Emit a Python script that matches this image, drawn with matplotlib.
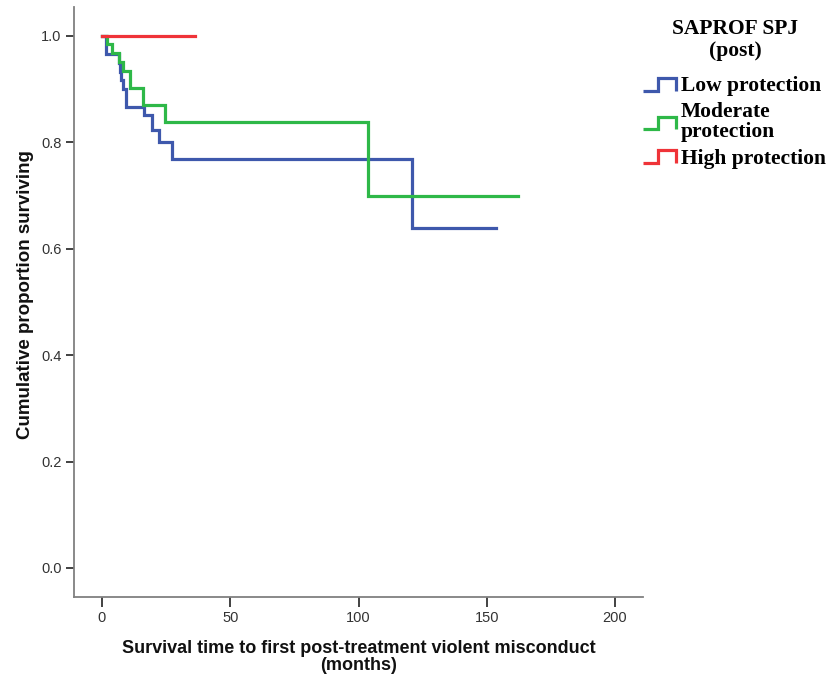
import matplotlib
matplotlib.use("Agg")
import matplotlib.pyplot as plt
from matplotlib.legend_handler import HandlerBase
from matplotlib.lines import Line2D

# Kaplan-Meier survival estimates per SAPROF SPJ (post) group
group_labels = ["Low protection", "Moderate\nprotection", "High protection"]
group_colors = ["#3E58AC", "#2EB848", "#EF3338"]

low_times = [0, 1.5, 6.5, 7.0, 7.5, 8.2, 9.5, 16.4, 19.4, 22.3, 27.2, 121.0, 153.5]
low_surv = [1.0, 0.967, 0.950, 0.933, 0.917, 0.900, 0.867, 0.851, 0.823, 0.801, 0.768, 0.639, 0.639]

moderate_times = [0, 2.0, 4.0, 6.5, 8.2, 10.8, 16.1, 24.6, 103.7, 162.0]
moderate_surv = [1.0, 0.984, 0.968, 0.952, 0.935, 0.903, 0.871, 0.839, 0.700, 0.700]

high_times = [0, 36.3]
high_surv = [1.0, 1.0]

x_ticks = [0, 50, 100, 150, 200]
y_ticks = [0.0, 0.2, 0.4, 0.6, 0.8, 1.0]


class StepHandler(HandlerBase):
    """Legend key drawn as a small step (pulse) shape."""

    def create_artists(self, legend, orig_handle, xdescent, ydescent,
                       width, height, fontsize, trans):
        x0, y0 = -xdescent, -ydescent
        lo = y0 - 0.05 * height
        hi = y0 + 0.95 * height
        xm = x0 + 0.45 * width
        xs = [x0, xm, xm, x0 + width, x0 + width]
        ys = [lo, lo, hi, hi, lo]
        ln = Line2D(xs, ys, color=orig_handle.get_color(),
                    lw=orig_handle.get_linewidth(),
                    solid_joinstyle="miter", solid_capstyle="butt")
        ln.set_transform(trans)
        return [ln]


fig = plt.figure(figsize=(8.28, 6.79), dpi=100)
ax = fig.add_axes([0.0894, 0.1208, 0.6872, 0.8689])

series = [(low_times, low_surv), (moderate_times, moderate_surv), (high_times, high_surv)]
handles = []
for (t, s), lab, col in zip(series, group_labels, group_colors):
    h, = ax.step(t, s, where="post", color=col, lw=2.3, label=lab,
                 solid_joinstyle="miter")
    handles.append(h)

ax.set_xlim(-10.9, 210.9)
ax.set_ylim(-0.0545, 1.0545)
ax.set_xticks(x_ticks)
ax.set_xticklabels([str(v) for v in x_ticks])
ax.set_yticks(y_ticks)
ax.set_yticklabels([f"{v:.1f}" for v in y_ticks])

for side in ("top", "right"):
    ax.spines[side].set_visible(False)
for side in ("left", "bottom"):
    ax.spines[side].set_color("#808080")
    ax.spines[side].set_linewidth(1.3)

for lbl in ax.get_xticklabels() + ax.get_yticklabels():
    lbl.set_fontfamily("Liberation Sans")
    lbl.set_fontsize(10.5)
    lbl.set_color("#333333")
ax.tick_params(axis="x", direction="out", length=7, width=1.3, color="#333333", pad=3)
ax.tick_params(axis="y", direction="out", length=6, width=1.3, color="#333333", pad=3)

label_kw = dict(family="Liberation Sans", fontweight="bold", color="#111111")
ax.set_xlabel("Survival time to first post-treatment violent misconduct\n(months)",
              linespacing=1.0, labelpad=11, fontsize=13, **label_kw)
ax.set_ylabel("Cumulative proportion surviving", fontsize=13.5, **label_kw)
ax.yaxis.set_label_coords(-0.071, 0.512)

serif_bold = {"family": "Liberation Serif", "weight": "bold", "size": 15.5}

# legend heading, centred over the entries
fig.text(735 / 828, 1 - 19 / 679, "SAPROF SPJ\n(post)", ha="center", va="top",
         multialignment="center", linespacing=1.15, fontdict=serif_bold)

leg = fig.legend(handles=handles, labels=group_labels,
                 handler_map={Line2D: StepHandler()},
                 loc="upper left", bbox_to_anchor=(643 / 828, 1 - 76 / 679),
                 frameon=False, prop=serif_bold,
                 handlelength=1.55, handleheight=0.55, handletextpad=0.2,
                 labelspacing=0.3, borderpad=0.0, borderaxespad=0.0)
for txt in leg.get_texts():
    txt.set_linespacing(1.0)

fig.savefig("out.png", dpi=100)
